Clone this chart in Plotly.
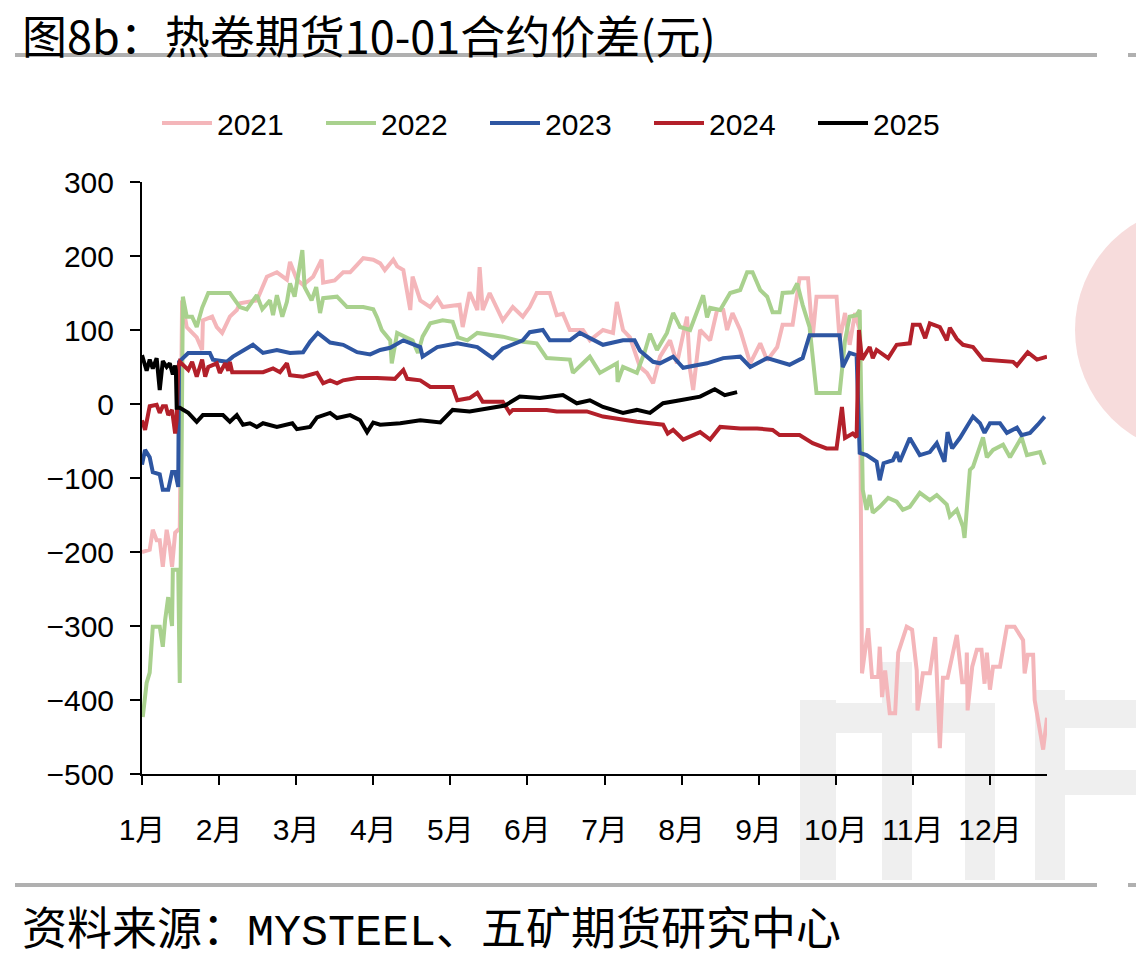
import plotly.graph_objects as go

# x positions are expressed in month units: 0 = 1月 tick, 1 = 2月 tick, ...
month_labels = ["1月", "2月", "3月", "4月", "5月", "6月", "7月", "8月", "9月", "10月", "11月", "12月"]
month_pos = list(range(12))

x_2021 = [0.00, 0.10, 0.14, 0.19, 0.23, 0.27, 0.32, 0.36, 0.39, 0.43, 0.47, 0.49, 0.52, 0.58, 0.71, 0.78, 0.79, 0.91,
          0.97, 1.04, 1.14, 1.23, 1.27, 1.49, 1.62, 1.75, 1.88, 1.92, 2.01, 2.09, 2.22, 2.33, 2.35, 2.50, 2.61, 2.70,
          2.79, 2.87, 3.00, 3.09, 3.15, 3.26, 3.31, 3.39, 3.48, 3.51, 3.61, 3.74, 3.83, 3.90, 4.12, 4.16, 4.25, 4.35,
          4.38, 4.42, 4.51, 4.60, 4.68, 4.81, 4.94, 5.03, 5.12, 5.29, 5.38, 5.46, 5.55, 5.72, 5.81, 5.98, 6.11, 6.16,
          6.24, 6.33, 6.46, 6.55, 6.63, 6.72, 6.85, 6.94, 7.07, 7.11, 7.15, 7.24, 7.37, 7.46, 7.54, 7.59, 7.66, 7.76,
          7.89, 8.02, 8.11, 8.24, 8.31, 8.44, 8.53, 8.64, 8.70, 8.75, 9.01, 9.05, 9.12, 9.18, 9.25, 9.31, 9.34, 9.42,
          9.47, 9.55, 9.57, 9.60, 9.64, 9.70, 9.77, 9.81, 9.86, 9.92, 9.99, 10.05, 10.06, 10.13, 10.22, 10.29, 10.35,
          10.39, 10.45, 10.52, 10.57, 10.64, 10.69, 10.70, 10.71, 10.77, 10.83, 10.89, 10.93, 10.96, 11.00, 11.04,
          11.13, 11.22, 11.32, 11.43, 11.45, 11.49, 11.56, 11.58, 11.69, 11.74]
y_2021 = [-200, -197, -170, -184, -184, -220, -170, -193, -220, -174, -170, -170, 140, 104, 90, 73, 113, 118,
          104, 96, 118, 127, 136, 140, 172, 178, 168, 192, 168, 161, 172, 195, 164, 167, 178, 178,
          188, 197, 195, 190, 181, 195, 186, 181, 127, 172, 140, 131, 143, 131, 134, 104, 151, 127,
          185, 127, 150, 131, 113, 131, 118, 131, 150, 150, 120, 122, 100, 100, 86, 100, 96, 138,
          100, 90, 50, 42, 28, 64, 86, 55, 118, 46, 19, 100, 86, 127, 127, 100, 123, 100,
          55, 82, 59, 77, 107, 107, 170, 170, 90, 145, 145, 86, 123, 80, 123, 100, -364, -303,
          -369, -369, -328, -396, -360, -418, -418, -336, -319, -301, -305, -360, -414, -364, -364, -315, -465,
          -370, -370, -336, -312, -376, -376, -336, -414, -355, -332, -332, -378, -336, -386, -355,
          -355, -301, -301, -319, -364, -339, -339, -400, -467, -424]

x_2022 = [0.01, 0.06, 0.10, 0.14, 0.23, 0.27, 0.30, 0.34, 0.39, 0.40, 0.47, 0.49, 0.53, 0.58, 0.65, 0.71, 0.78, 0.86,
          1.14, 1.27, 1.36, 1.49, 1.56, 1.66, 1.70, 1.75, 1.82, 1.88, 1.92, 1.98, 2.08, 2.11, 2.20, 2.26, 2.31, 2.35,
          2.53, 2.66, 2.87, 3.00, 3.05, 3.11, 3.22, 3.24, 3.31, 3.51, 3.58, 3.64, 3.74, 3.90, 4.03, 4.10, 4.22, 4.35,
          4.68, 4.94, 5.12, 5.25, 5.55, 5.59, 5.72, 5.81, 5.94, 6.16, 6.17, 6.24, 6.42, 6.52, 6.59, 6.68, 6.81, 6.89,
          6.98, 7.11, 7.28, 7.33, 7.37, 7.50, 7.63, 7.76, 7.85, 7.92, 8.02, 8.11, 8.18, 8.27, 8.31, 8.44, 8.50, 8.57,
          8.66, 8.75, 9.05, 9.12, 9.18, 9.27, 9.31, 9.35, 9.40, 9.44, 9.48, 9.57, 9.68, 9.79, 9.87, 9.96, 10.09, 10.22,
          10.31, 10.44, 10.48, 10.57, 10.65, 10.67, 10.74, 10.78, 10.91, 10.96, 11.04, 11.17, 11.26, 11.41, 11.48,
          11.65, 11.71]
y_2022 = [-423, -377, -363, -301, -301, -328, -292, -261, -300, -224, -224, -377, 145, 118, 118, 104, 130, 150,
          150, 131, 128, 147, 128, 140, 120, 147, 118, 138, 163, 145, 208, 158, 140, 158, 123, 143,
          145, 131, 131, 128, 117, 100, 86, 55, 96, 86, 69, 91, 109, 113, 111, 90, 86, 96,
          91, 84, 82, 62, 60, 42, 55, 64, 42, 55, 30, 50, 42, 70, 95, 73, 96, 123,
          104, 100, 147, 117, 130, 127, 150, 154, 178, 178, 154, 145, 124, 124, 150, 151, 163, 134,
          104, 15, 15, 86, 118, 120, 127, -116, -143, -123, -147, -139, -127, -132, -143, -139, -120, -130,
          -123, -136, -152, -143, -166, -181, -89, -85, -45, -72, -62, -55, -72, -45, -69,
          -65, -82]

x_2023 = [0.00, 0.04, 0.10, 0.14, 0.23, 0.27, 0.34, 0.39, 0.43, 0.47, 0.48, 0.60, 0.88, 0.92, 1.10, 1.18, 1.44, 1.57,
          1.75, 1.92, 2.09, 2.18, 2.28, 2.44, 2.61, 2.79, 2.96, 3.09, 3.22, 3.39, 3.61, 3.64, 3.83, 4.09, 4.35, 4.55,
          4.68, 4.94, 5.03, 5.20, 5.29, 5.55, 5.68, 5.98, 6.24, 6.39, 6.46, 6.63, 6.72, 6.89, 7.02, 7.33, 7.54, 7.76,
          7.89, 8.11, 8.40, 8.57, 8.66, 9.05, 9.09, 9.18, 9.27, 9.31, 9.40, 9.53, 9.57, 9.62, 9.74, 9.79, 9.83, 9.96,
          10.09, 10.22, 10.31, 10.41, 10.45, 10.51, 10.61, 10.70, 10.78, 10.87, 10.93, 11.00, 11.13, 11.22, 11.35,
          11.41, 11.52, 11.62, 11.71]
y_2023 = [-82, -62, -72, -92, -95, -116, -116, -92, -92, -112, 57, 69, 69, 60, 57, 64, 80, 69,
          73, 69, 70, 84, 96, 83, 80, 70, 67, 73, 76, 86, 77, 64, 77, 82, 77, 62,
          75, 86, 97, 100, 86, 86, 96, 80, 86, 86, 72, 57, 55, 64, 49, 55, 62, 64,
          50, 62, 53, 62, 93, 93, 50, 69, 66, -66, -69, -78, -103, -80, -76, -65, -78, -46,
          -69, -65, -53, -78, -38, -60, -46, -31, -17, -26, -39, -26, -26, -39, -32,
          -42, -39, -28, -17]

x_2024 = [0.00, 0.04, 0.10, 0.19, 0.23, 0.27, 0.31, 0.34, 0.39, 0.43, 0.45, 0.47, 0.49, 0.60, 0.65, 0.71, 0.75, 0.78,
          0.82, 0.86, 0.97, 1.01, 1.08, 1.12, 1.14, 1.17, 1.57, 1.70, 1.79, 1.88, 1.92, 2.09, 2.27, 2.35, 2.44, 2.53,
          2.61, 2.79, 3.05, 3.28, 3.39, 3.44, 3.61, 3.74, 4.03, 4.09, 4.25, 4.35, 4.42, 4.68, 4.77, 4.81, 5.25, 5.38,
          5.77, 5.98, 6.42, 6.55, 6.76, 6.82, 6.89, 7.02, 7.24, 7.37, 7.50, 7.76, 7.98, 8.18, 8.27, 8.53, 8.70, 8.88,
          9.01, 9.08, 9.12, 9.22, 9.27, 9.30, 9.34, 9.44, 9.48, 9.53, 9.68, 9.79, 9.96, 10.00, 10.09, 10.16, 10.22,
          10.35, 10.44, 10.48, 10.57, 10.65, 10.78, 10.91, 11.30, 11.35, 11.49, 11.61, 11.74]
y_2024 = [-22, -35, -3, -1, -12, -3, -3, -15, -8, -40, -22, 50, 57, 46, 57, 37, 50, 60,
          37, 50, 55, 42, 55, 45, 57, 43, 43, 48, 43, 55, 39, 37, 42, 28, 32, 28,
          32, 35, 35, 34, 46, 34, 32, 23, 23, 5, 8, 15, 3, 3, -12, -8, -8, -10,
          -10, -17, -24, -26, -28, -40, -35, -48, -38, -48, -31, -33, -33, -35, -42, -42, -53, -60,
          -60, -4, -46, -40, -45, 100, 60, 77, 62, 73, 62, 80, 82, 107, 107, 89, 109,
          104, 86, 103, 88, 80, 77, 60, 57, 52, 70, 60, 64]

x_2025 = [0.00, 0.06, 0.10, 0.14, 0.19, 0.23, 0.27, 0.32, 0.36, 0.40, 0.43, 0.44, 0.45, 0.49, 0.60, 0.71, 0.79, 1.05,
          1.14, 1.23, 1.31, 1.40, 1.49, 1.57, 1.75, 1.95, 2.01, 2.18, 2.27, 2.44, 2.53, 2.70, 2.83, 2.92, 3.00, 3.09,
          3.35, 3.61, 3.87, 4.03, 4.25, 4.51, 4.71, 4.90, 5.16, 5.46, 5.64, 5.81, 5.98, 6.24, 6.42, 6.59, 6.76, 6.98,
          7.24, 7.43, 7.56, 7.72]
y_2025 = [66, 45, 60, 48, 62, 19, 58, 50, 55, 40, 52, 45, -5, -5, -12, -24, -15, -15,
          -24, -15, -28, -26, -31, -26, -31, -26, -34, -31, -18, -12, -19, -15, -22, -38, -25, -28,
          -26, -22, -25, -8, -10, -6, -2, 10, 8, 12, 1, 5, -4, -12, -8, -12, 1, 5,
          10, 20, 12, 16]

series = [
    ("2021", x_2021, y_2021, "#f4b6ba"),
    ("2022", x_2022, y_2022, "#a9d18e"),
    ("2023", x_2023, y_2023, "#2e56a2"),
    ("2024", x_2024, y_2024, "#b3202a"),
    ("2025", x_2025, y_2025, "#000000"),
]

fig = go.Figure()
for name, xs, ys, color in series:
    fig.add_trace(go.Scatter(x=xs, y=ys, name=name, mode="lines",
                             line=dict(color=color, width=4)))

FONT = "Liberation Sans, Arial, Noto Sans CJK SC, sans-serif"
CJK = "Noto Sans CJK SC, sans-serif"
MONO = "Liberation Mono, DejaVu Sans Mono, monospace"

# plot area in pixels: left 142, right 1047, top 182, bottom 774
def px_x(p):
    return (p - 142) / 905


def px_y(p):
    return (774 - p) / 592


fig.update_layout(
    width=1136, height=962,
    margin=dict(l=142, r=89, t=182, b=188),
    paper_bgcolor="white", plot_bgcolor="white",
    font=dict(family=FONT, size=30, color="black"),
    legend=dict(orientation="h", x=px_x(157), xanchor="left", y=px_y(123), yanchor="middle",
                font=dict(size=30, family=FONT), entrywidth=99, entrywidthmode="pixels",
                itemwidth=50, bgcolor="rgba(0,0,0,0)"),
    xaxis=dict(range=[0, 11.74], tickvals=month_pos, ticktext=month_labels,
               showgrid=False, zeroline=False, showline=True, linecolor="black", linewidth=2,
               ticks="outside", ticklen=9, tickwidth=1.5, tickcolor="black",
               tickfont=dict(size=30, family=FONT), ticklabelstandoff=19, fixedrange=True),
    yaxis=dict(range=[-500, 300], tickvals=[-500, -400, -300, -200, -100, 0, 100, 200, 300],
               showgrid=False, zeroline=False, showline=True, linecolor="black", linewidth=2,
               ticks="outside", ticklen=10, tickwidth=1.5, tickcolor="black",
               tickfont=dict(size=30, family=FONT), ticklabelstandoff=10, fixedrange=True),
    showlegend=True,
)

# watermark (decorative, behind the data)
WM = "#efefef"
fig.add_shape(type="circle", xref="paper", yref="paper",
              x0=px_x(1075), x1=px_x(1325), y0=px_y(455), y1=px_y(205),
              fillcolor="#f7dcdc", line=dict(width=0), layer="below")
for (a, b, c, d) in [(800, 836, 700, 880), (836, 995, 703, 733), (882, 912, 662, 880),
                     (965, 995, 733, 880), (1035, 1065, 690, 880), (1065, 1136, 700, 728),
                     (1065, 1136, 770, 795)]:
    fig.add_shape(type="rect", xref="paper", yref="paper",
                  x0=px_x(a), x1=px_x(b), y0=px_y(d), y1=px_y(c),
                  fillcolor=WM, line=dict(width=0), layer="below")

# separator lines
for ypx in (55, 885):
    fig.add_shape(type="line", xref="paper", yref="paper",
                  x0=px_x(15), x1=px_x(1097), y0=px_y(ypx), y1=px_y(ypx),
                  line=dict(color="#b0b0b0", width=4))
    fig.add_shape(type="line", xref="paper", yref="paper",
                  x0=px_x(1128), x1=px_x(1140), y0=px_y(ypx), y1=px_y(ypx),
                  line=dict(color="#b0b0b0", width=4))

fig.add_annotation(text="图8b：热卷期货10-01合约价差(元)", xref="paper", yref="paper",
                   x=px_x(20), y=px_y(34), xanchor="left", yanchor="middle",
                   showarrow=False, font=dict(family=CJK, size=45, color="black"))

fig.add_annotation(text="资料来源：<span style=\"font-family:" + MONO + "\">MYSTEEL</span>、五矿期货研究中心",
                   xref="paper", yref="paper",
                   x=px_x(20), y=px_y(926), xanchor="left", yanchor="middle",
                   showarrow=False, font=dict(family=CJK, size=45, color="black"))

fig.write_html("out.html")
